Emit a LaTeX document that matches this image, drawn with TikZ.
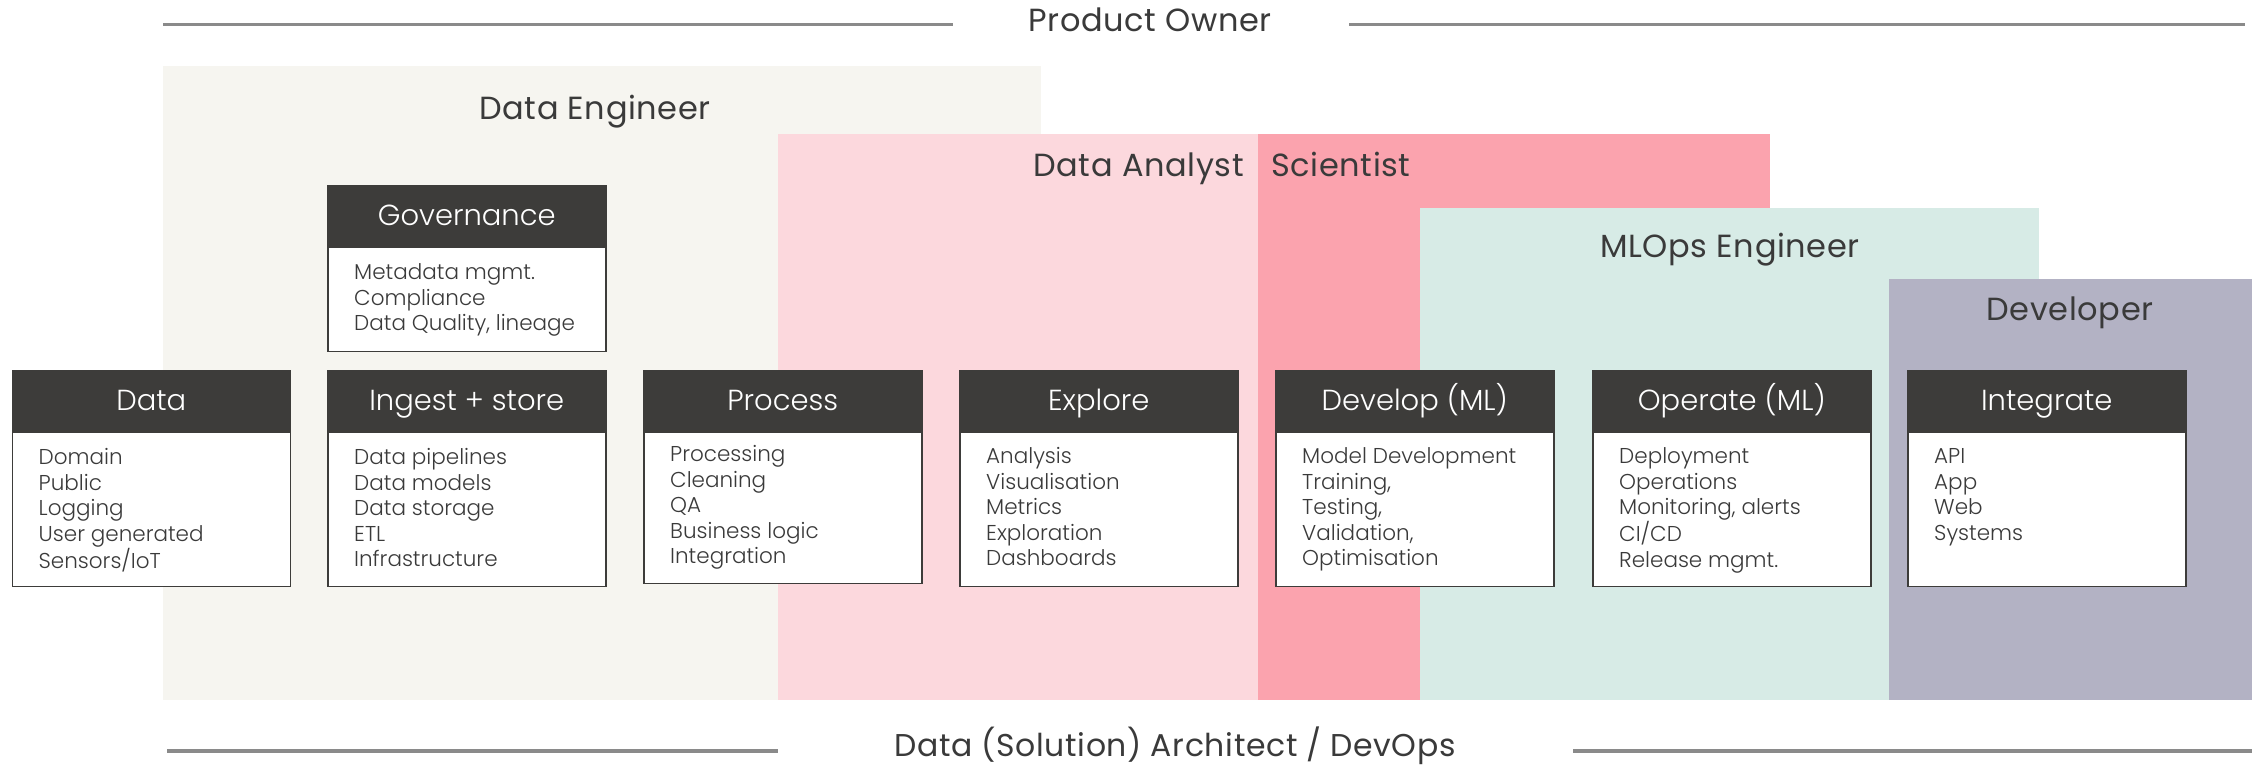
\documentclass[tikz,border=0pt]{standalone}
\usepackage{fontspec}
\setmainfont{Poppins}
\newfontfamily\lightfont{Poppins Light}
\newfontfamily\rolefont{Poppins}[LetterSpace=2]
\definecolor{hdrc}{HTML}{3D3C3A}
\definecolor{txt}{HTML}{3A3A3A}
\definecolor{rulec}{HTML}{8A8A8A}
\definecolor{deC}{HTML}{F6F5F0}
\definecolor{daC}{HTML}{FCD8DD}
\definecolor{scC}{HTML}{FBA3AE}
\definecolor{mlC}{HTML}{D7EBE6}
\definecolor{devC}{HTML}{B3B2C4}
\newcommand{\stagebox}[7]{%
  \node[hdr] (#1-h) at (#2,#3) {#5};
  \node[bodybox, minimum height={#4-#3-60}] (#1-b) at (#1-h.south west) {};
  \node[items] (#1-t) at ([shift={(27,#6)}]#1-h.south west) {\strut #7};
}
\begin{document}
\begin{tikzpicture}[x=1pt,y=-1pt,
  hdr/.style={fill=hdrc, draw=hdrc, line width=1.5pt, text=white,
    font=\lightfont\fontsize{29}{34}\selectfont, minimum width=278pt,
    minimum height=60pt, inner sep=0pt, text height=20pt, text depth=0pt, anchor=north west},
  bodybox/.style={draw=hdrc, fill=white, line width=1.8pt, minimum width=278pt,
    inner sep=0pt, anchor=north west},
  items/.style={font=\lightfont\fontsize{21.5}{25.5}\selectfont, align=left,
    anchor=north west, inner sep=0pt, text=txt},
  role/.style={font=\rolefont\fontsize{32}{38}\selectfont, text=txt, inner sep=0pt, anchor=base},
  rulel/.style={draw=rulec, line width=3.5pt}]
\useasboundingbox (0,0) rectangle (2252,764);
\fill[white] (0,0) rectangle (2252,764);
% role areas
\fill[deC] (163,66) rectangle (1041,700);
\fill[daC] (778,134) rectangle (1258,700);
\fill[scC] (1258,134) rectangle (1770,700);
\fill[mlC] (1420,208) rectangle (2039,700);
\fill[devC] (1889,279) rectangle (2252,700);
% role labels
\node[role] (de) at (595,119) {Data Engineer};
\node[role, anchor=base east] (da) at (1244,176) {Data Analyst};
\node[role, anchor=base west] (sc) at (1271,176) {Scientist};
\node[role] (ml) at (1730,257) {MLOps Engineer};
\node[role] (dev) at (2070,320) {Developer};
\node[role] (po) at (1150,31) {Product Owner};
\node[role, font=\rolefont\fontsize{31.5}{36}\selectfont] (arch) at (1175,756.5) {Data (Solution) Architect / DevOps};
% rules
\coordinate (pl1) at (163,24.7); \coordinate (pl2) at (953,24.7);
\coordinate (pr1) at (1349,24.7); \coordinate (pr2) at (2245,24.7);
\coordinate (al1) at (167,751); \coordinate (al2) at (778,751);
\coordinate (ar1) at (1573,751); \coordinate (ar2) at (2252,751);
\draw[rulel] (pl1) -- (pl2);
\draw[rulel] (pr1) -- (pr2);
\draw[rulel] (al1) -- (al2);
\draw[rulel] (ar1) -- (ar2);
% stages
\stagebox{gov}{327}{185}{349}{Governance}{15.15}{Metadata mgmt.\\Compliance\\Data Quality, lineage}
\stagebox{data}{11.5}{370}{584}{Data}{15.15}{Domain\\Public\\Logging\\User generated\\Sensors/IoT}
\stagebox{ing}{327}{370}{584}{Ingest + store}{15.15}{Data pipelines\\Data models\\Data storage\\ETL\\Infrastructure}
\stagebox{proc}{643}{370}{581}{Process}{12.15}{Processing\\Cleaning\\QA\\Business logic\\Integration}
\stagebox{expl}{959}{370}{584}{Explore}{14.15}{Analysis\\Visualisation\\Metrics\\Exploration\\Dashboards}
\stagebox{dev}{1275}{370}{584}{Develop (ML)}{14.15}{Model Development\\Training,\\Testing,\\Validation,\\Optimisation}
\stagebox{op}{1592}{370}{584}{Operate (ML)}{14.15}{Deployment\\Operations\\Monitoring, alerts\\CI/CD\\Release mgmt.}
\stagebox{int}{1907}{370}{584}{Integrate}{14.15}{API\\App\\Web\\Systems}
\end{tikzpicture}
\end{document}
